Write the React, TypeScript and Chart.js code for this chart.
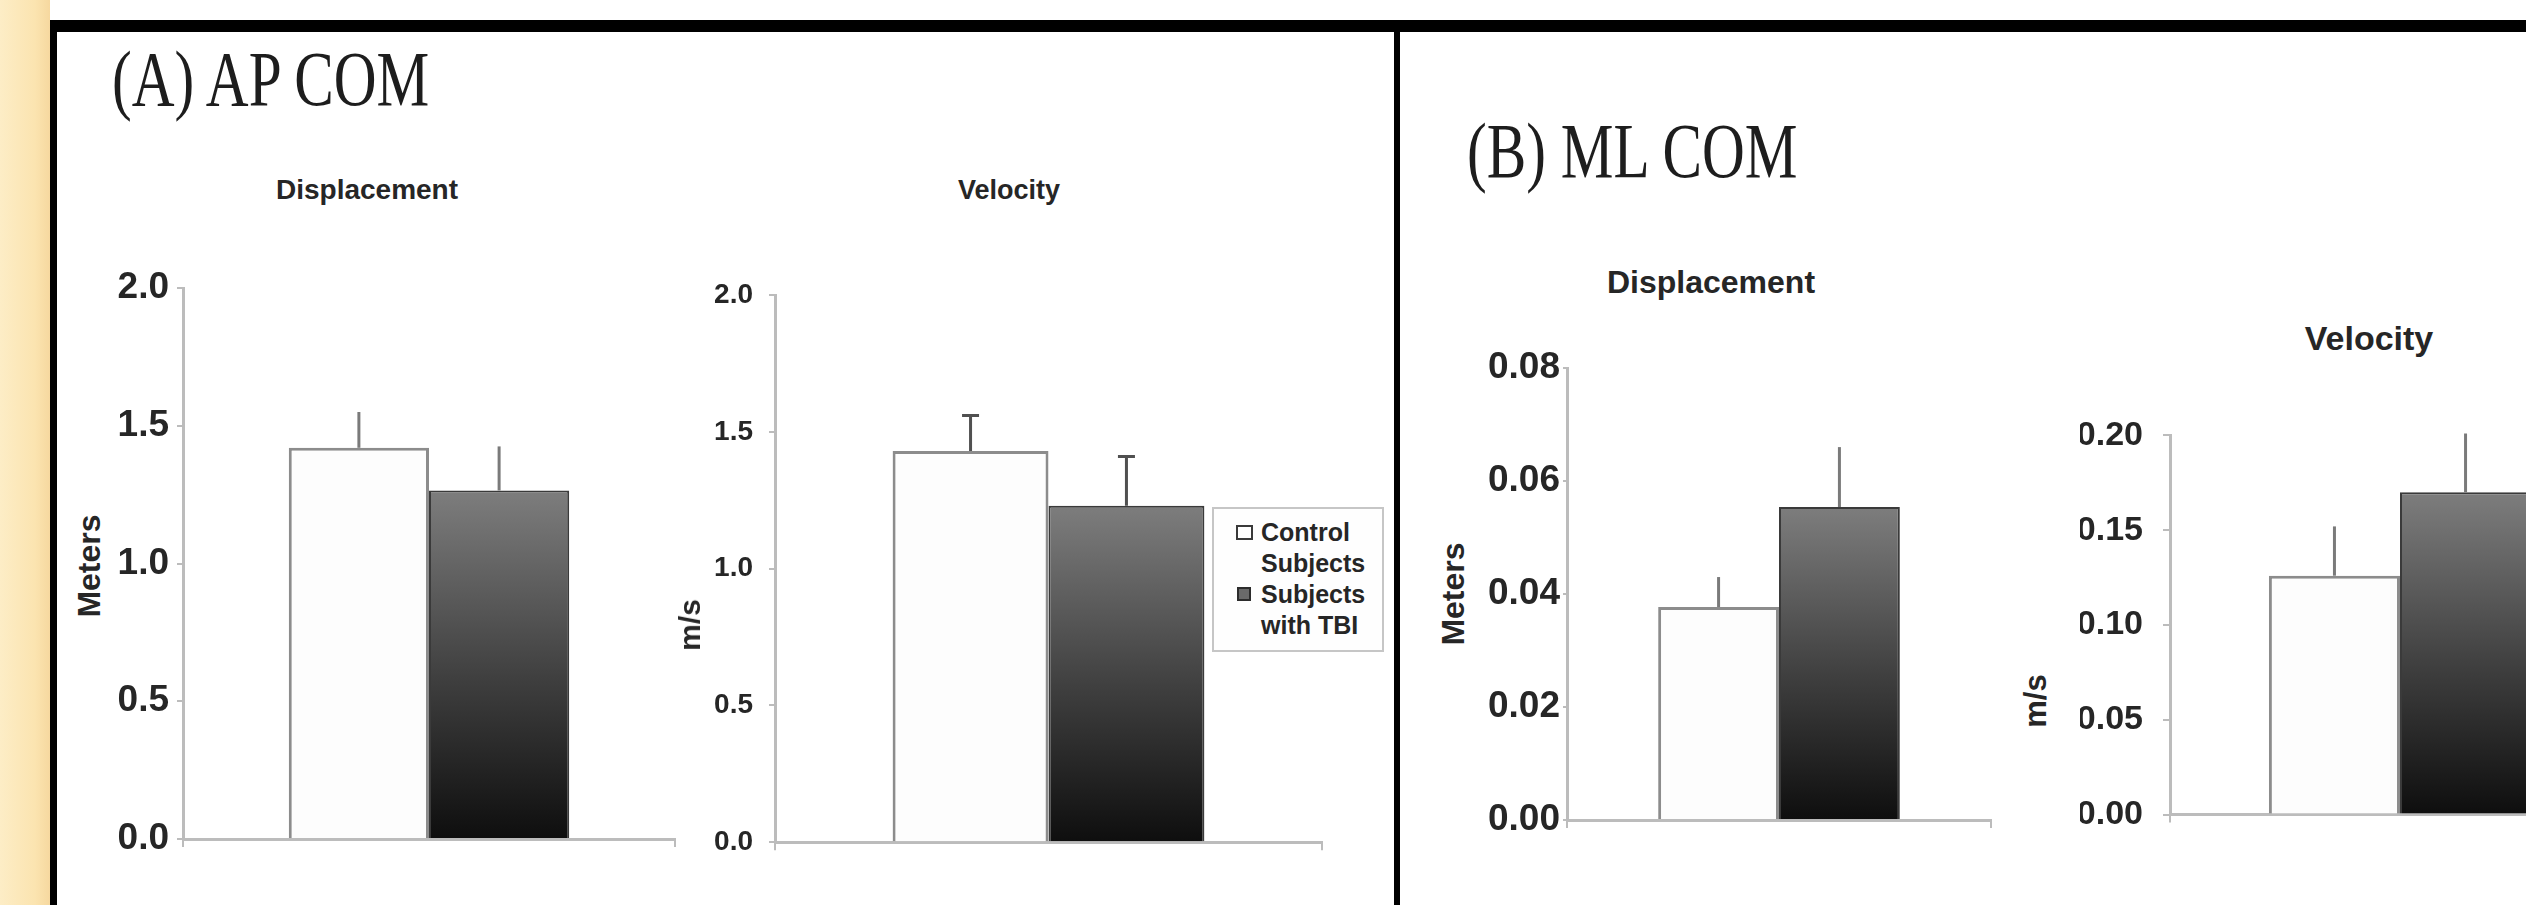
import React, { useEffect, useRef } from "react";
import { Chart, registerables } from "chart.js";

Chart.register(...registerables);

// ---------- data ----------
const seriesNames = ["Control Subjects", "Subjects with TBI"];
const legendLines = [
  ["Control", "Subjects"],
  ["Subjects", "with TBI"],
];

// Panel A — AP COM
const apDispValues = [1.42, 1.265];
const apDispErrors = [0.13, 0.16];
const apDispTicks = [0, 0.5, 1.0, 1.5, 2.0];

const apVelValues = [1.43, 1.23];
const apVelErrors = [0.13, 0.18];
const apVelTicks = [0, 0.5, 1.0, 1.5, 2.0];

// Panel B — ML COM
const mlDispValues = [0.0377, 0.0554];
const mlDispErrors = [0.0053, 0.0106];
const mlDispTicks = [0, 0.02, 0.04, 0.06, 0.08];

const mlVelValues = [0.126, 0.17];
const mlVelErrors = [0.026, 0.031];
const mlVelTicks = [0, 0.05, 0.1, 0.15, 0.2];

// ---------- plugins ----------
const errorBarPlugin = {
  id: "errorBars",
  afterDatasetsDraw(chart: any, _args: any, opts: any) {
    const { ctx } = chart;
    const ys = chart.scales.y;
    chart.data.datasets.forEach((ds: any, i: number) => {
      const meta = chart.getDatasetMeta(i);
      meta.data.forEach((el: any, j: number) => {
        const v = ds.data[j];
        const e = opts.errors[i][j];
        const x = el.x;
        const y0 = ys.getPixelForValue(v);
        const y1 = ys.getPixelForValue(v + e);
        ctx.save();
        ctx.strokeStyle = opts.color;
        ctx.lineWidth = opts.width;
        ctx.beginPath();
        ctx.moveTo(x, y0);
        ctx.lineTo(x, y1);
        if (opts.cap) {
          ctx.moveTo(x - opts.cap / 2, y1);
          ctx.lineTo(x + opts.cap / 2, y1);
        }
        ctx.stroke();
        ctx.restore();
      });
    });
  },
};

function darkFill(c: any) {
  const chart = c.chart;
  if (!chart.chartArea || c.raw === undefined) return "#444444";
  const ys = chart.scales.y;
  const top = ys.getPixelForValue(c.raw);
  const bot = ys.getPixelForValue(0);
  const g = chart.ctx.createLinearGradient(0, top, 0, bot);
  g.addColorStop(0, "#7d7d7d");
  g.addColorStop(0.55, "#3e3e3e");
  g.addColorStop(1, "#0e0e0e");
  return g;
}

type Spec = {
  left: number;
  top: number;
  w: number;
  h: number;
  yW: number;
  xH: number;
  padTop: number;
  padRight: number;
  values: number[];
  errors: number[];
  ticks: number[];
  decimals: number;
  tickFont: number;
  tickLen: number;
  tickPad: number;
  errColor: string;
  errCap: number;
};

function makeConfig(p: Spec): any {
  const axisColor = "#bcbcbc";
  return {
    type: "bar",
    data: {
      labels: [""],
      datasets: [
        {
          label: seriesNames[0],
          data: [p.values[0]],
          backgroundColor: "#fdfdfd",
          borderColor: "#8c8c8c",
          borderWidth: 3,
        },
        {
          label: seriesNames[1],
          data: [p.values[1]],
          backgroundColor: darkFill,
          borderColor: "#3a3a3a",
          borderWidth: 2,
        },
      ],
    },
    options: {
      responsive: false,
      animation: false,
      devicePixelRatio: 1,
      layout: { padding: { left: 0, top: p.padTop, right: p.padRight, bottom: 0 } },
      datasets: { bar: { categoryPercentage: 0.57, barPercentage: 1 } },
      plugins: {
        legend: { display: false },
        tooltip: { enabled: false },
        title: { display: false },
        errorBars: {
          errors: [[p.errors[0]], [p.errors[1]]],
          color: p.errColor,
          width: 3,
          cap: p.errCap,
        },
      },
      scales: {
        x: {
          grid: {
            display: true,
            drawOnChartArea: false,
            drawTicks: true,
            tickLength: 8,
            color: axisColor,
            lineWidth: 2,
          },
          border: { display: true, color: axisColor, width: 3 },
          ticks: { display: false },
          afterFit: (s: any) => {
            s.height = p.xH;
          },
        },
        y: {
          min: 0,
          max: p.ticks[p.ticks.length - 1],
          afterBuildTicks: (s: any) => {
            s.ticks = p.ticks.map((v) => ({ value: v }));
          },
          ticks: {
            padding: p.tickPad,
            color: "#262626",
            font: { family: '"Liberation Sans", Arial, sans-serif', size: p.tickFont, weight: "bold" },
            callback: (v: any) => Number(v).toFixed(p.decimals),
          },
          grid: {
            drawOnChartArea: false,
            drawTicks: true,
            tickLength: p.tickLen,
            color: axisColor,
            lineWidth: 2,
          },
          border: { display: true, color: axisColor, width: 3 },
          afterFit: (s: any) => {
            s.width = p.yW;
          },
        },
      },
    },
    plugins: [errorBarPlugin],
  };
}

const specs: Spec[] = [
  {
    left: 110, top: 250, w: 570, h: 620, yW: 73, xH: 31, padTop: 38, padRight: 5,
    values: apDispValues, errors: apDispErrors, ticks: apDispTicks, decimals: 1,
    tickFont: 37, tickLen: 6, tickPad: 8, errColor: "#7a7a7a", errCap: 0,
  },
  {
    left: 700, top: 255, w: 630, h: 620, yW: 75, xH: 32, padTop: 40, padRight: 8,
    values: apVelValues, errors: apVelErrors, ticks: apVelTicks, decimals: 1,
    tickFont: 28, tickLen: 6, tickPad: 16, errColor: "#505050", errCap: 17,
  },
  {
    left: 1480, top: 330, w: 520, h: 525, yW: 87, xH: 35, padTop: 38, padRight: 9,
    values: mlDispValues, errors: mlDispErrors, ticks: mlDispTicks, decimals: 2,
    tickFont: 37, tickLen: 4, tickPad: 3, errColor: "#7a7a7a", errCap: 0,
  },
  {
    left: 2080, top: 395, w: 560, h: 460, yW: 90, xH: 36, padTop: 38, padRight: 10,
    values: mlVelValues, errors: mlVelErrors, ticks: mlVelTicks, decimals: 2,
    tickFont: 34, tickLen: 7, tickPad: 20, errColor: "#7a7a7a", errCap: 0,
  },
];

function BarChart({ spec }: { spec: Spec }) {
  const ref = useRef<HTMLCanvasElement>(null);
  useEffect(() => {
    const chart = new Chart(ref.current as HTMLCanvasElement, makeConfig(spec));
    return () => chart.destroy();
  }, []);
  return (
    <canvas
      ref={ref}
      width={spec.w}
      height={spec.h}
      style={{ position: "absolute", left: spec.left, top: spec.top, width: spec.w, height: spec.h }}
    />
  );
}

const sans = '"Liberation Sans", Arial, sans-serif';
const serif = '"Liberation Serif", "Times New Roman", serif';

function Title({ text, left, top }: { text: string; left: number; top: number }) {
  return (
    <div
      style={{
        position: "absolute", left, top, fontFamily: serif, fontSize: 78, lineHeight: "78px",
        whiteSpace: "nowrap", transform: "scaleX(0.76)", transformOrigin: "0 0", color: "#1d1d1d",
      }}
    >
      {text}
    </div>
  );
}

function Sub({ text, cx, top, size }: { text: string; cx: number; top: number; size: number }) {
  return (
    <div
      style={{
        position: "absolute", left: cx, top, fontFamily: sans, fontWeight: "bold", fontSize: size,
        lineHeight: `${size}px`, whiteSpace: "nowrap", transform: "translateX(-50%)", color: "#262626",
      }}
    >
      {text}
    </div>
  );
}

function VLabel({ text, cx, cy, size }: { text: string; cx: number; cy: number; size: number }) {
  return (
    <div
      style={{
        position: "absolute", left: cx, top: cy, fontFamily: sans, fontWeight: "bold", fontSize: size,
        lineHeight: `${size}px`, whiteSpace: "nowrap", transform: "translate(-50%, -50%) rotate(-90deg)",
        color: "#262626",
      }}
    >
      {text}
    </div>
  );
}

function Legend() {
  const lineTops = [520, 551, 582, 613];
  const lines = [...legendLines[0], ...legendLines[1]];
  return (
    <>
      <div
        style={{
          position: "absolute", left: 1212, top: 507, width: 172, height: 145,
          border: "2px solid #c6c6c6", background: "#fefefe", boxSizing: "border-box",
        }}
      />
      <div
        style={{
          position: "absolute", left: 1236, top: 525, width: 17, height: 15,
          border: "2px solid #3a3a3a", background: "#ffffff", boxSizing: "border-box",
        }}
      />
      <div
        style={{
          position: "absolute", left: 1237, top: 587, width: 14, height: 14,
          border: "2px solid #2c2c2c", background: "#6a6a6a", boxSizing: "border-box",
        }}
      />
      {lines.map((t, i) => (
        <div
          key={i}
          style={{
            position: "absolute", left: 1261, top: lineTops[i], fontFamily: sans, fontWeight: "bold",
            fontSize: 25, lineHeight: "25px", whiteSpace: "nowrap", color: "#262626",
          }}
        >
          {t}
        </div>
      ))}
    </>
  );
}

export default function App() {
  return (
    <div
      style={{
        position: "fixed", left: 0, top: 0, width: 2526, height: 905, overflow: "hidden",
        background: "#ffffff",
      }}
    >
      {/* frame */}
      <div
        style={{
          position: "absolute", left: 0, top: 0, width: 50, height: 905,
          background: "linear-gradient(to right, #fdedc6, #fbe4b0 70%, #f6d89f)",
        }}
      />
      <div style={{ position: "absolute", left: 50, top: 20, width: 2476, height: 12, background: "#000" }} />
      <div style={{ position: "absolute", left: 50, top: 20, width: 7, height: 885, background: "#000" }} />
      <div style={{ position: "absolute", left: 1394, top: 32, width: 6, height: 873, background: "#000" }} />

      {specs.map((s, i) => (
        <BarChart key={i} spec={s} />
      ))}

      <Title text="(A) AP COM" left={112} top={40} />
      <Title text="(B) ML COM" left={1467} top={112} />

      <Sub text="Displacement" cx={367} top={176} size={28} />
      <Sub text="Velocity" cx={1009} top={177} size={27} />
      <Sub text="Displacement" cx={1711} top={266} size={32} />
      <Sub text="Velocity" cx={2369} top={321} size={34} />

      <VLabel text="Meters" cx={89} cy={566} size={32} />
      <VLabel text="m/s" cx={690} cy={625} size={30} />
      <VLabel text="Meters" cx={1453} cy={594} size={32} />
      <VLabel text="m/s" cx={2035} cy={701} size={31} />

      <Legend />
    </div>
  );
}
